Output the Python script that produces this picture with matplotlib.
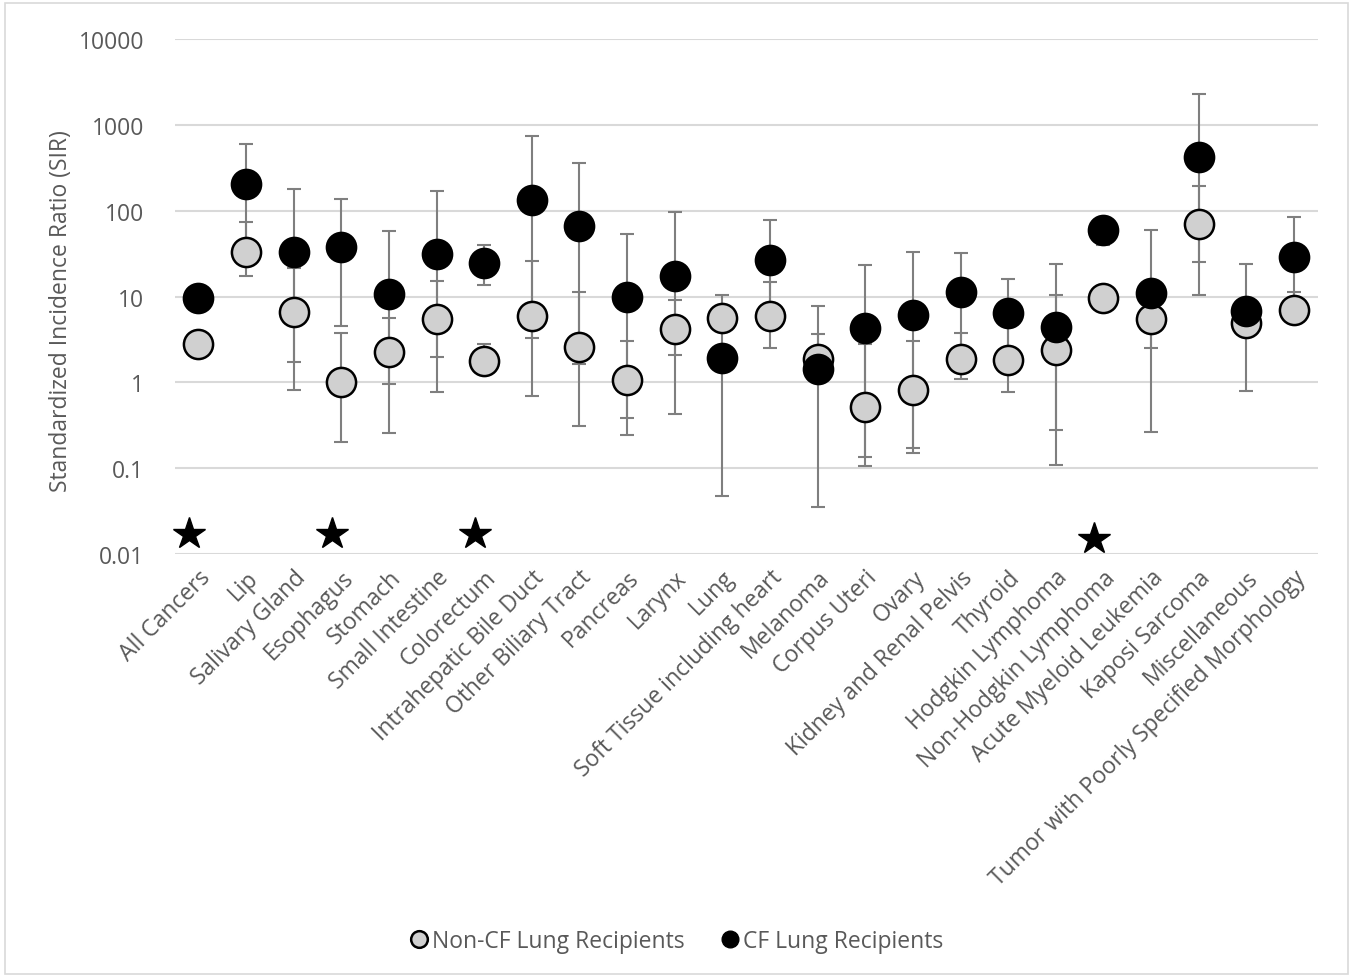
import matplotlib
matplotlib.use("Agg")
import matplotlib.pyplot as plt
import numpy as np
from matplotlib.lines import Line2D
from matplotlib.patches import Rectangle

plt.rcParams['font.family'] = ['Open Sans', 'DejaVu Sans']

categories = ["All Cancers", "Lip", "Salivary Gland", "Esophagus", "Stomach",
              "Small Intestine", "Colorectum", "Intrahepatic Bile Duct",
              "Other Biliary Tract", "Pancreas", "Larynx", "Lung",
              "Soft Tissue including heart", "Melanoma", "Corpus Uteri", "Ovary",
              "Kidney and Renal Pelvis", "Thyroid", "Hodgkin Lymphoma",
              "Non-Hodgkin Lymphoma", "Acute Myeloid Leukemia", "Kaposi Sarcoma",
              "Miscellaneous", "Tumor with Poorly Specified Morphology"]

# Non-CF lung recipients: SIR and 95% CI
noncf_sir = [2.77, 33.5, 6.6, 1.02, 2.26, 5.52, 1.76, 5.9, 2.56, 1.08, 4.18, 5.67,
             5.9, 1.9, 0.511, 0.826, 1.9, 1.81, 2.39, 9.7, 5.46, 70.2, 4.97, 7.02]
noncf_lo = [2.77, 17.3, 1.75, 0.203, 0.953, 1.98, 1.3, 0.70, 0.307, 0.39, 2.11, 4.8,
            2.51, 1.1, 0.137, 0.171, 1.10, 0.772, 0.282, 8.0, 2.49, 25.1, 3.5, 5.0]
noncf_hi = [2.77, 73.6, 21.5, 3.72, 5.68, 15.1, 2.79, 26.1, 11.3, 3.01, 9.09, 6.6,
            14.7, 3.69, 2.84, 3.01, 3.8, 4.6, 10.5, 12.0, 9.0, 194, 7.0, 11.3]

# CF lung recipients: SIR and 95% CI
cf_sir = [9.6, 207, 32.8, 38.3, 10.6, 31.0, 24.4, 132, 66.8, 9.9, 17.6, 1.92,
          26.8, 1.44, 4.34, 6.07, 11.3, 6.37, 4.42, 59, 11.0, 422, 6.75, 29.3]
cf_lo = [9.6, 42.7, 0.81, 4.55, 0.261, 0.77, 13.6, 3.32, 1.66, 0.244, 0.434, 0.048,
         5.5, 0.0358, 0.107, 0.151, 2.33, 1.9, 0.109, 40.2, 0.268, 10.4, 0.794, 6.0]
cf_hi = [9.6, 596, 181, 136, 57.9, 171, 39.8, 735, 365, 54.1, 96.2, 10.5,
         78, 7.87, 23.5, 33.2, 32.2, 16.0, 24.2, 75, 60.1, 2304, 23.7, 84.9]

# significance stars
star_cats = ["All Cancers", "Esophagus", "Colorectum", "Non-Hodgkin Lymphoma"]
star_vals = [0.017, 0.017, 0.017, 0.0148]

x = np.arange(len(categories))

fig = plt.figure(figsize=(13.53, 9.79), dpi=100)
ax = fig.add_axes([0.129, 0.433, 0.845, 0.526])

err_kw = dict(fmt='none', ecolor='#7f7f7f', elinewidth=1.5, capsize=5,
              capthick=1.5, zorder=2)
ax.errorbar(x, noncf_sir,
            yerr=[np.array(noncf_sir) - np.array(noncf_lo),
                  np.array(noncf_hi) - np.array(noncf_sir)], **err_kw)
ax.errorbar(x, cf_sir,
            yerr=[np.array(cf_sir) - np.array(cf_lo),
                  np.array(cf_hi) - np.array(cf_sir)], **err_kw)

ax.plot(x, noncf_sir, 'o', ms=21, mfc='#d0d0d0', mec='black', mew=1.8,
        ls='none', zorder=3)
ax.plot(x, cf_sir, 'o', ms=21, mfc='black', mec='black', mew=1.8,
        ls='none', zorder=4)

sx = [categories.index(c) - 0.2 for c in star_cats]
ax.plot(sx, star_vals, '*', ms=24, color='black', ls='none', zorder=5,
        clip_on=False)

ax.set_yscale('log')
ax.set_ylim(0.01, 10000)
ax.set_xlim(-0.5, len(categories) - 0.5)
ax.set_yticks([0.01, 0.1, 1, 10, 100, 1000, 10000])
ax.set_yticklabels(["0.01", "0.1", "1", "10", "100", "1000", "10000"])
ax.minorticks_off()
ax.set_xticks(x)
ax.set_xticklabels(categories, rotation=45, ha='right', rotation_mode='anchor')
ax.tick_params(axis='both', length=0, labelsize=16.5, labelcolor='#595959')
ax.tick_params(axis='y', pad=22)
ax.tick_params(axis='x', pad=8)
ax.grid(axis='y', color='#d9d9d9', lw=1.5)
ax.set_axisbelow(True)
for s in ax.spines.values():
    s.set_visible(False)
ax.set_ylabel("Standardized Incidence Ratio (SIR)", fontsize=16.5, color='#595959',
              va='center')
ax.yaxis.set_label_coords(-0.099, 0.474)

handles = [
    Line2D([], [], marker='o', ls='none', ms=12, mfc='#d0d0d0', mec='black', mew=1.8),
    Line2D([], [], marker='o', ls='none', ms=12, mfc='black', mec='black'),
]
fig.legend(handles, ["Non-CF Lung Recipients", "CF Lung Recipients"],
           loc='center', bbox_to_anchor=(0.5, 0.038), ncol=2, frameon=False,
           fontsize=16.5, labelcolor='#595959', handlelength=0.8,
           handletextpad=0.15, columnspacing=1.6)

fig.patches.append(Rectangle((0.004, 0.004), 0.992, 0.992, transform=fig.transFigure,
                             fill=False, edgecolor='#d9d9d9', lw=1.2))

fig.savefig("out.png", dpi=100)
